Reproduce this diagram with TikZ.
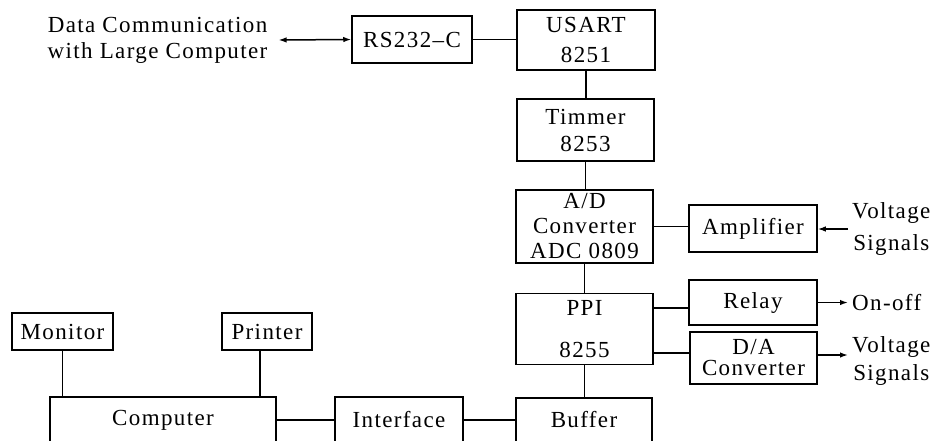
\documentclass[tikz,border=0pt]{standalone}
\usepackage{fontspec}
\setmainfont{Liberation Serif}[LetterSpace=6]
\usetikzlibrary{arrows.meta}
\begin{document}
\begin{tikzpicture}[x=1pt,y=-1pt,
  box/.style={draw, line width=1.5pt, inner sep=0pt, align=center,
    font=\fontsize{23}{27}\selectfont},
  lbl/.style={inner sep=0pt, align=center, font=\fontsize{23}{27}\selectfont},
  conn/.style={line width=1.5pt},
  arr/.style={conn, -{Latex[length=8pt,width=5.5pt]}},
  dbl/.style={conn, {Latex[length=8pt,width=5.5pt]}-{Latex[length=8pt,width=5.5pt]}}]
\useasboundingbox (0,0) rectangle (934,440);
\clip (0,0) rectangle (934,440);
% top chain
\node[lbl, font=\fontsize{23}{26}\selectfont] (dc) at (157.5,40) {Data Communication\\with Large Computer};
\node[box, minimum width=120, minimum height=47] (rs) at (412,39.5) {RS232\textendash C};
\node[box, minimum width=138, minimum height=60, font=\fontsize{23}{30}\selectfont] (usart) at (586,40) {USART\\8251};
\node[box, minimum width=137, minimum height=62] (timer) at (585.5,130) {Timmer\\8253};
\node[box, minimum width=137, minimum height=73, font=\fontsize{23}{25}\selectfont] (adc) at (584.5,226.5) {A/D\\Converter\\ADC 0809};
\node[box, minimum width=128, minimum height=47] (amp) at (753,228.5) {Amplifier};
\node[box, minimum width=137, minimum height=71, font=\fontsize{23}{42}\selectfont] (ppi) at (584.5,329) {PPI\\8255};
\node[box, minimum width=128, minimum height=45] (relay) at (753,302.5) {Relay};
\node[box, minimum width=127, minimum height=52, font=\fontsize{23}{21}\selectfont] (da) at (753.5,358) {D/A\\Converter};
\node[box, minimum width=136, minimum height=44] (buffer) at (584,420) {Buffer};
\node[box, minimum width=128, minimum height=46] (iface) at (399,420) {Interface};
\node[box, minimum width=226, minimum height=46] (comp) at (163,420) {Computer};
\node[box, minimum width=101, minimum height=37] (monitor) at (62.5,331.5) {Monitor};
\node[box, minimum width=90, minimum height=37] (printer) at (267,331.5) {Printer};
% right labels
\node[lbl, anchor=west, font=\fontsize{23}{32}\selectfont] (vin) at (852,229) {Voltage\\Signals};
\node[lbl, anchor=west] (onoff) at (852,303) {On-off};
\node[lbl, anchor=west, font=\fontsize{23}{28}\selectfont] (vout) at (852,361) {Voltage\\Signals};
% connectors
\draw[dbl] ([xshift=11pt]dc.east) -- (rs.west);
\draw[conn] (rs.east) -- (rs.east -| usart.west);
\draw[conn] (usart.south) -- (usart.south |- timer.north);
\draw[conn] (timer.south) -- (timer.south |- adc.north);
\draw[conn] (adc.south) -- (adc.south |- ppi.north);
\draw[conn] (ppi.south) -- (ppi.south |- buffer.north);
\draw[conn] (adc.east) -- (adc.east -| amp.west);
\coordinate (vinp) at ([xshift=-4pt]vin.west);
\draw[arr] (vinp) -- (vinp -| amp.east);
\coordinate (r1) at ([yshift=-5.5pt]relay.west);
\draw[conn] (r1) -- (r1 -| ppi.east);
\coordinate (d1) at ([yshift=5pt]da.west);
\draw[conn] (d1) -- (d1 -| ppi.east);
\draw[arr] (relay.east) -- ([xshift=-4pt]relay.east -| onoff.west);
\coordinate (d2) at ([yshift=3pt]da.east);
\draw[arr] (d2) -- ([xshift=-4pt]d2 -| vout.west);
\draw[conn] (monitor.south) -- (monitor.south |- comp.north);
\coordinate (p1) at ([xshift=-7pt]printer.south);
\draw[conn] (p1) -- (p1 |- comp.north);
\draw[conn] (comp.east) -- (iface.west);
\draw[conn] (iface.east) -- (buffer.west);
\end{tikzpicture}
\end{document}
